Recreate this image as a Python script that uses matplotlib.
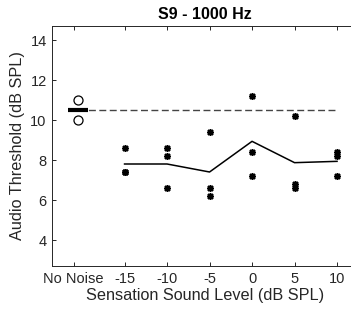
import matplotlib.pyplot as plt
import numpy as np

plt.rcParams['font.family'] = ['Liberation Sans', 'DejaVu Sans']

# noise levels (dB SPL) and the three repeated thresholds at each level
levels = [-15, -10, -5, 0, 5, 10]
trial1 = [8.6, 8.6, 9.4, 11.2, 10.2, 8.4]
trial2 = [7.4, 8.2, 6.6, 8.4, 6.8, 8.2]
trial3 = [7.4, 6.6, 6.2, 7.2, 6.6, 7.2]

# no-noise baseline
base_x = -20.5
base_vals = [11.0, 10.0]

tick_pos = [-21, -15, -10, -5, 0, 5, 10]
tick_labels = ['No Noise', '-15', '-10', '-5', '0', '5', '10']

trials = np.array([trial1, trial2, trial3])
means = trials.mean(axis=0)
base_mean = np.mean(base_vals)

fig = plt.figure(figsize=(3.51, 3.2), dpi=100)
ax = fig.add_axes([52.3 / 351, 54 / 320, 306 / 351, 240 / 320])

dark = '#262626'

# baseline dashed reference
ax.plot([base_x, levels[-1]], [base_mean, base_mean], '--', color='#444444',
        lw=1.0, dashes=(5, 2.5))

for row in trials:
    ax.plot(levels, row, ls='none', marker=(8, 2, 0), ms=5, mew=1.1,
            color='black')
ax.plot(levels, means, '-', color='black', lw=1.1)

ax.plot([base_x] * len(base_vals), base_vals, ls='none', marker='o', ms=6.5,
        mfc='white', mec='black', mew=0.9)
ax.plot([base_x], [base_mean], marker='_', ms=14.5, mew=3, color='black')

ax.set_xlim(-23.5, 12.5)
ax.set_ylim(2.7, 14.7)
ax.set_xticks(tick_pos)
ax.set_xticklabels(tick_labels)
ax.set_yticks([4, 6, 8, 10, 12, 14])

ax.tick_params(direction='in', length=3, width=0.7, colors=dark,
               labelsize=10.5, top=True, right=False, pad=4)
for s in ax.spines.values():
    s.set_color(dark)
    s.set_linewidth(0.7)

ax.set_xlabel('Sensation Sound Level (dB SPL)', fontsize=11.7, color=dark,
              labelpad=2)
ax.set_ylabel('Audio Threshold (dB SPL)', fontsize=11.7, color=dark,
              labelpad=4)
ax.set_title('S9 - 1000 Hz', fontsize=11.5, fontweight='bold', pad=5)

fig.savefig('out.png', dpi=100)
